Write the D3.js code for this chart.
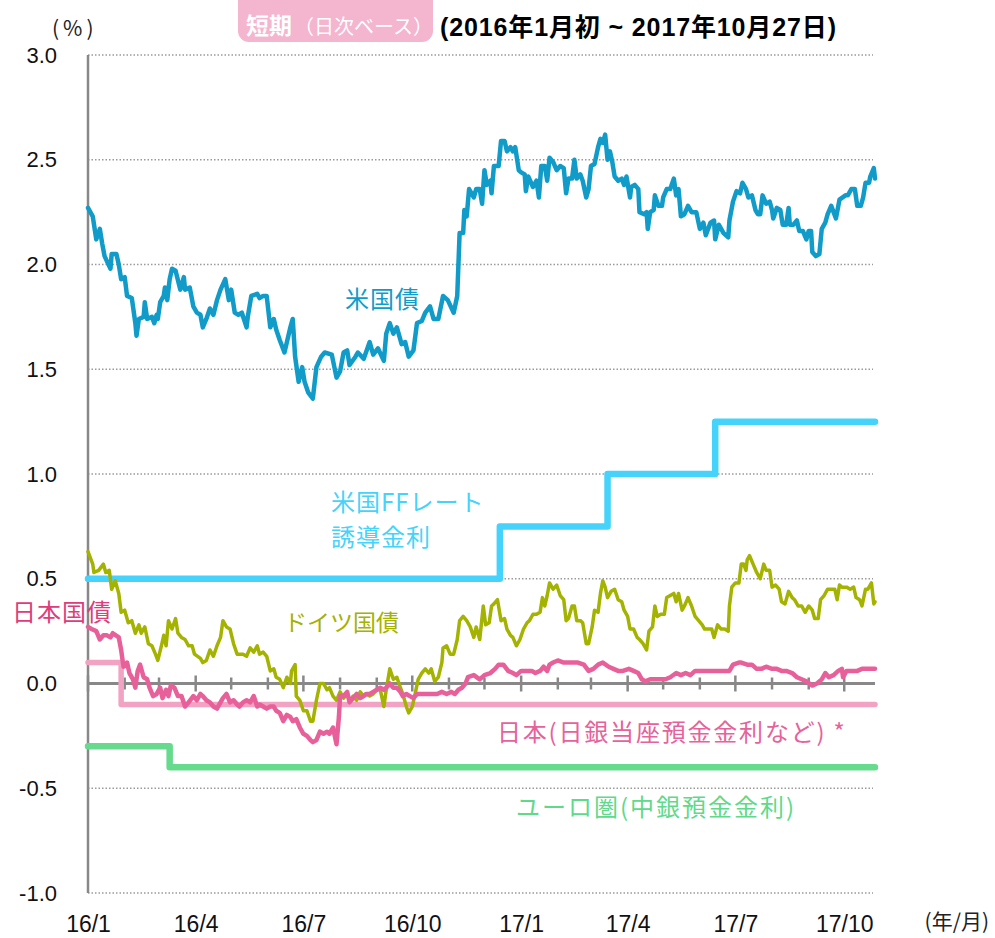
<!DOCTYPE html>
<html>
<head>
<meta charset="utf-8">
<script src="https://cdn.jsdelivr.net/npm/d3@7"></script>
<style>
  body { margin: 0; background: #fff; }
  svg { display: block; font-family: "Liberation Sans", Arial, "Noto Sans CJK JP", sans-serif; }
  .jp { font-family: "Noto Sans CJK JP", sans-serif; }
</style>
</head>
<body>
<svg id="chart" width="995" height="938"></svg>
<script>
// data: [days since 2016-01-01, value %]
const usBond = [[0,2.27],[4,2.23],[7,2.12],[10,2.17],[12,2.10],[14,2.04],[19,1.98],[20,2.05],[24,2.05],[26,2.00],[28,1.93],[31,1.94],[33,1.85],[37,1.84],[40,1.72],[41,1.66],[43,1.74],[47,1.75],[48,1.82],[50,1.74],[54,1.75],[56,1.72],[58,1.76],[59,1.74],[61,1.82],[64,1.85],[65,1.89],[67,1.83],[69,1.93],[71,1.98],[74,1.97],[78,1.88],[81,1.94],[82,1.88],[86,1.89],[89,1.80],[92,1.77],[95,1.76],[97,1.70],[100,1.74],[103,1.79],[106,1.76],[109,1.83],[112,1.88],[116,1.93],[119,1.83],[121,1.88],[124,1.77],[127,1.76],[130,1.77],[134,1.70],[135,1.75],[138,1.85],[143,1.86],[145,1.84],[148,1.85],[151,1.85],[154,1.70],[157,1.74],[159,1.69],[162,1.64],[166,1.58],[171,1.70],[173,1.74],[175,1.56],[178,1.44],[181,1.51],[183,1.44],[186,1.39],[190,1.36],[193,1.51],[197,1.56],[200,1.58],[206,1.57],[210,1.46],[213,1.49],[216,1.58],[219,1.59],[221,1.52],[226,1.56],[228,1.58],[233,1.55],[238,1.63],[241,1.57],[245,1.60],[250,1.54],[252,1.67],[255,1.72],[258,1.67],[261,1.70],[265,1.62],[268,1.63],[271,1.56],[275,1.59],[278,1.72],[282,1.73],[285,1.77],[289,1.80],[292,1.74],[296,1.74],[300,1.85],[304,1.83],[309,1.77],[312,1.85],[314,2.15],[317,2.15],[318,2.26],[320,2.23],[322,2.36],[326,2.32],[328,2.36],[331,2.36],[333,2.29],[335,2.45],[337,2.38],[340,2.40],[341,2.34],[343,2.47],[347,2.47],[349,2.59],[352,2.59],[354,2.54],[357,2.56],[359,2.54],[361,2.56],[364,2.45],[366,2.44],[369,2.43],[370,2.35],[372,2.42],[376,2.37],[379,2.40],[381,2.32],[383,2.47],[386,2.47],[388,2.40],[390,2.51],[393,2.49],[396,2.45],[399,2.47],[402,2.46],[404,2.34],[406,2.41],[409,2.41],[411,2.50],[413,2.41],[416,2.43],[418,2.40],[421,2.32],[423,2.36],[425,2.47],[428,2.48],[431,2.56],[433,2.60],[435,2.58],[437,2.62],[439,2.50],[441,2.54],[443,2.49],[445,2.42],[448,2.40],[451,2.41],[453,2.38],[455,2.42],[458,2.32],[459,2.37],[462,2.38],[465,2.36],[466,2.25],[470,2.24],[472,2.25],[473,2.17],[475,2.25],[478,2.26],[479,2.33],[482,2.28],[485,2.28],[486,2.32],[489,2.36],[492,2.36],[495,2.41],[497,2.33],[499,2.36],[501,2.23],[504,2.24],[507,2.28],[510,2.25],[514,2.25],[517,2.17],[520,2.20],[522,2.14],[526,2.20],[529,2.21],[530,2.12],[533,2.19],[537,2.15],[541,2.13],[542,2.21],[545,2.30],[548,2.35],[551,2.34],[553,2.39],[556,2.36],[558,2.32],[561,2.33],[564,2.26],[566,2.24],[568,2.24],[570,2.33],[573,2.29],[576,2.30],[578,2.26],[579,2.22],[582,2.27],[585,2.26],[587,2.19],[590,2.19],[592,2.27],[593,2.19],[596,2.19],[599,2.21],[601,2.16],[604,2.16],[607,2.12],[609,2.16],[611,2.16],[612,2.06],[615,2.04],[618,2.05],[620,2.17],[623,2.20],[625,2.24],[628,2.28],[632,2.22],[635,2.31],[640,2.33],[642,2.33],[645,2.36],[648,2.36],[650,2.28],[653,2.28],[655,2.32],[657,2.39],[660,2.39],[661,2.42],[664,2.46],[665,2.41]];

const deBond = [[0,0.63],[4,0.57],[5,0.53],[9,0.54],[13,0.57],[15,0.53],[18,0.54],[20,0.45],[23,0.49],[26,0.43],[28,0.34],[31,0.35],[34,0.29],[37,0.30],[40,0.24],[43,0.28],[45,0.24],[48,0.27],[51,0.19],[54,0.18],[57,0.14],[59,0.11],[62,0.18],[64,0.23],[66,0.18],[68,0.30],[71,0.26],[74,0.31],[76,0.24],[79,0.22],[82,0.21],[85,0.18],[88,0.18],[90,0.14],[95,0.12],[97,0.10],[100,0.11],[103,0.16],[106,0.13],[109,0.18],[112,0.22],[114,0.30],[117,0.27],[120,0.26],[123,0.19],[126,0.14],[128,0.14],[131,0.14],[134,0.13],[137,0.17],[140,0.15],[143,0.18],[145,0.14],[148,0.15],[151,0.13],[154,0.06],[157,0.07],[159,0.03],[162,0.02],[165,-0.02],[168,0.03],[171,0.00],[172,0.06],[175,0.09],[176,-0.06],[179,-0.08],[182,-0.13],[185,-0.13],[188,-0.18],[190,-0.18],[193,-0.08],[196,0.00],[199,0.00],[202,-0.03],[204,-0.02],[207,-0.06],[210,-0.08],[213,-0.04],[216,-0.07],[219,-0.05],[221,-0.08],[224,-0.06],[227,-0.08],[230,-0.04],[233,-0.06],[235,-0.05],[238,-0.06],[241,-0.05],[244,-0.03],[247,-0.03],[250,-0.11],[252,-0.03],[255,0.07],[258,0.02],[261,0.03],[264,-0.02],[266,-0.05],[269,-0.11],[271,-0.14],[274,-0.11],[276,-0.06],[279,0.02],[282,0.05],[285,0.07],[288,0.05],[290,0.07],[293,0.01],[296,0.03],[299,0.10],[300,0.17],[303,0.18],[306,0.14],[309,0.14],[312,0.21],[314,0.30],[317,0.32],[320,0.30],[323,0.27],[326,0.22],[328,0.27],[331,0.21],[334,0.37],[336,0.28],[339,0.29],[341,0.37],[343,0.38],[346,0.40],[349,0.30],[352,0.31],[354,0.26],[357,0.23],[359,0.22],[362,0.18],[365,0.21],[368,0.26],[371,0.29],[373,0.30],[376,0.33],[379,0.33],[382,0.34],[384,0.41],[386,0.37],[388,0.42],[390,0.48],[393,0.45],[396,0.47],[399,0.42],[402,0.40],[404,0.30],[406,0.31],[409,0.37],[411,0.37],[413,0.30],[416,0.30],[418,0.29],[421,0.19],[423,0.19],[426,0.27],[428,0.35],[431,0.34],[433,0.43],[435,0.49],[437,0.46],[439,0.41],[442,0.44],[445,0.45],[448,0.40],[451,0.39],[453,0.35],[456,0.32],[458,0.26],[461,0.26],[464,0.22],[466,0.21],[469,0.19],[472,0.16],[474,0.25],[477,0.27],[479,0.37],[481,0.32],[484,0.33],[487,0.33],[489,0.41],[492,0.42],[495,0.43],[497,0.39],[499,0.43],[502,0.35],[504,0.37],[507,0.41],[510,0.37],[513,0.32],[516,0.30],[519,0.28],[521,0.26],[524,0.26],[527,0.26],[529,0.22],[532,0.28],[535,0.26],[538,0.26],[541,0.25],[542,0.37],[544,0.46],[547,0.48],[550,0.48],[552,0.57],[554,0.57],[556,0.54],[557,0.59],[559,0.61],[562,0.57],[565,0.53],[568,0.50],[571,0.57],[573,0.54],[576,0.54],[578,0.46],[581,0.47],[584,0.45],[586,0.39],[589,0.38],[592,0.44],[595,0.41],[597,0.40],[600,0.37],[603,0.37],[606,0.34],[609,0.37],[612,0.35],[614,0.31],[617,0.31],[619,0.40],[622,0.42],[625,0.45],[628,0.45],[631,0.45],[633,0.40],[635,0.47],[637,0.46],[641,0.46],[644,0.45],[647,0.46],[649,0.41],[652,0.40],[654,0.37],[657,0.45],[659,0.45],[662,0.48],[664,0.38],[665,0.39]];

const jpBond = [[0,0.27],[3,0.26],[7,0.25],[10,0.21],[13,0.23],[16,0.23],[19,0.22],[21,0.24],[26,0.22],[28,0.16],[30,0.08],[33,0.10],[35,0.05],[38,0.02],[40,-0.02],[42,0.06],[44,0.09],[47,0.03],[50,0.02],[52,-0.02],[55,-0.06],[58,-0.05],[61,-0.02],[63,-0.07],[66,-0.03],[68,-0.06],[70,-0.01],[73,-0.02],[76,-0.06],[79,-0.06],[82,-0.11],[85,-0.09],[89,-0.06],[92,-0.08],[95,-0.05],[97,-0.06],[100,-0.08],[103,-0.09],[106,-0.11],[109,-0.12],[112,-0.09],[114,-0.07],[117,-0.05],[120,-0.09],[123,-0.08],[126,-0.10],[128,-0.11],[131,-0.09],[134,-0.08],[137,-0.09],[140,-0.06],[143,-0.11],[145,-0.10],[148,-0.11],[151,-0.12],[154,-0.11],[157,-0.11],[159,-0.13],[162,-0.14],[165,-0.18],[168,-0.15],[171,-0.16],[173,-0.18],[176,-0.17],[179,-0.21],[182,-0.24],[185,-0.25],[188,-0.27],[190,-0.28],[193,-0.27],[196,-0.23],[199,-0.24],[202,-0.23],[204,-0.24],[207,-0.21],[210,-0.29],[212,-0.16],[213,-0.06],[216,-0.06],[219,-0.04],[221,-0.09],[224,-0.07],[227,-0.05],[230,-0.07],[233,-0.06],[235,-0.05],[238,-0.05],[241,-0.04],[244,-0.03],[247,-0.02],[250,-0.03],[252,-0.02],[255,0.00],[258,-0.02],[261,-0.02],[264,-0.04],[266,-0.06],[269,-0.05],[272,-0.06],[275,-0.07],[278,-0.05],[281,-0.05],[283,-0.05],[286,-0.05],[290,-0.05],[295,-0.05],[299,-0.04],[303,-0.05],[307,-0.04],[310,-0.05],[313,-0.03],[316,-0.02],[319,0.00],[321,0.03],[326,0.04],[331,0.02],[335,0.04],[340,0.05],[344,0.07],[347,0.09],[351,0.09],[355,0.06],[359,0.05],[362,0.04],[366,0.06],[371,0.06],[375,0.06],[378,0.05],[382,0.06],[385,0.08],[388,0.06],[390,0.09],[393,0.10],[397,0.11],[402,0.10],[406,0.10],[410,0.10],[414,0.10],[419,0.09],[423,0.06],[427,0.07],[431,0.09],[435,0.10],[440,0.08],[444,0.07],[448,0.06],[452,0.06],[457,0.07],[461,0.06],[465,0.05],[468,0.02],[471,0.01],[475,0.02],[479,0.02],[484,0.02],[488,0.02],[492,0.03],[497,0.05],[501,0.04],[505,0.05],[509,0.04],[513,0.06],[517,0.06],[521,0.06],[526,0.06],[530,0.06],[534,0.06],[538,0.06],[542,0.06],[545,0.09],[550,0.10],[552,0.10],[557,0.09],[561,0.09],[565,0.07],[569,0.07],[573,0.08],[578,0.07],[582,0.07],[586,0.06],[590,0.06],[595,0.05],[599,0.03],[603,0.02],[607,0.01],[612,-0.01],[616,0.00],[620,0.02],[623,0.05],[626,0.03],[630,0.04],[634,0.06],[637,0.07],[638,0.03],[641,0.06],[645,0.06],[650,0.06],[654,0.07],[658,0.07],[662,0.07],[665,0.07]];

// policy rates (step changes)
const ffRate = [[0,0.5],[348,0.75],[439,1.0],[530,1.25],[665,1.25]];
const bojRate = [[0,0.1],[28,-0.1],[665,-0.1]];
const ecbRate = [[0,-0.3],[69,-0.4],[665,-0.4]];

const yTicks = [-1.0, -0.5, 0.0, 0.5, 1.0, 1.5, 2.0, 2.5, 3.0];
const lastDay = 665;

const svg = d3.select("#chart");
const start = new Date(2016, 0, 1);
const toDate = (d) => d3.timeDay.offset(start, d);

const x = d3.scaleTime().domain([start, toDate(lastDay)]).range([88, 875]);
const y = d3.scaleLinear().domain([-1, 3]).range([893, 55]);

//Gridlines (dotted), zero line is solid axis
svg.append("g")
  .selectAll("line")
  .data(yTicks.filter((d) => d !== 0))
  .join("line")
  .attr("x1", x.range()[0])
  .attr("x2", 873)
  .attr("y1", (d) => y(d))
  .attr("y2", (d) => y(d))
  .attr("stroke", "#9a9a9a")
  .attr("stroke-width", 1.5)
  .attr("stroke-dasharray", "1.5,2");

//Y axis labels
svg.append("g")
  .attr("transform", "translate(88,0)")
  .call(d3.axisLeft(y).tickValues(yTicks).tickSize(0).tickPadding(31).tickFormat((d) => d.toFixed(1)))
  .call((g) => g.select(".domain").remove())
  .selectAll("text")
  .attr("font-size", 22)
  .attr("font-family", "Liberation Sans, Arial, sans-serif")
  .attr("fill", "#111");

//X axis labels (quarterly)
const quarters = d3.timeMonth.every(3).range(start, toDate(lastDay));
svg.append("g")
  .attr("transform", "translate(0,893)")
  .call(d3.axisBottom(x).tickValues(quarters).tickSize(0).tickPadding(23).tickFormat(d3.timeFormat("%y/%-m")))
  .call((g) => g.select(".domain").remove())
  .selectAll("text")
  .attr("font-size", 23)
  .attr("font-family", "Liberation Sans, Arial, sans-serif")
  .attr("fill", "#111");

//Vertical axis line
svg.append("line")
  .attr("x1", 88).attr("x2", 88)
  .attr("y1", y(3)).attr("y2", y(-1))
  .attr("stroke", "#888").attr("stroke-width", 2.5);

//Zero line with monthly ticks
svg.append("line")
  .attr("x1", 88).attr("x2", 875)
  .attr("y1", y(0)).attr("y2", y(0))
  .attr("stroke", "#888").attr("stroke-width", 3);

const months = d3.timeMonth.range(start, toDate(lastDay));
svg.append("g")
  .selectAll("line")
  .data(months)
  .join("line")
  .attr("x1", (d) => x(d)).attr("x2", (d) => x(d))
  .attr("y1", (d) => y(0) - (d.getMonth() % 3 === 0 ? 8 : 6))
  .attr("y2", (d) => y(0) + (d.getMonth() % 3 === 0 ? 8 : 6))
  .attr("stroke", "#888").attr("stroke-width", 2.5);

//Lines
const line = d3.line().x((d) => x(toDate(d[0]))).y((d) => y(d[1]));
const stepLine = d3.line().x((d) => x(toDate(d[0]))).y((d) => y(d[1])).curve(d3.curveStepAfter);

const series = [
  { data: ecbRate, gen: stepLine, color: "#66db8e", width: 6.5 },
  { data: bojRate, gen: stepLine, color: "#f2a3c4", width: 5.5 },
  { data: ffRate, gen: stepLine, color: "#45d3fb", width: 6.5 },
  { data: deBond, gen: line, color: "#a4b200", width: 3.5 },
  { data: jpBond, gen: line, color: "#e8609a", width: 4.5 },
  { data: usBond, gen: line, color: "#109bc8", width: 4.5 }
];

svg.append("g")
  .selectAll("path")
  .data(series)
  .join("path")
  .attr("d", (s) => s.gen(s.data))
  .attr("fill", "none")
  .attr("stroke", (s) => s.color)
  .attr("stroke-width", (s) => s.width)
  .attr("stroke-linejoin", "round")
  .attr("stroke-linecap", "round");

//Series labels
const labels = [
  { text: "米国債", x: 345, y: 308, color: "#129bc8", size: 24, ls: 1 },
  { text: "米国FFレート", x: 331, y: 511, color: "#45d3fb", size: 24, ls: 1 },
  { text: "誘導金利", x: 331, y: 546, color: "#45d3fb", size: 24, ls: 1 },
  { text: "ドイツ国債", x: 284, y: 631, color: "#a4b200", size: 23, ls: 0 },
  { text: "日本国債", x: 12, y: 621, color: "#dd3d7b", size: 24, ls: 1 },
  { text: "日本(日銀当座預金金利など) *", x: 497, y: 741, color: "#e6629b", size: 24, ls: 1.8 },
  { text: "ユーロ圏(中銀預金金利)", x: 516, y: 816, color: "#5fd98a", size: 24, ls: 2 }
];

svg.append("g")
  .selectAll("text")
  .data(labels)
  .join("text")
  .attr("class", "jp")
  .attr("x", (d) => d.x)
  .attr("y", (d) => d.y)
  .attr("font-size", (d) => d.size)
  .attr("letter-spacing", (d) => d.ls)
  .attr("fill", (d) => d.color)
  .text((d) => d.text);

//Units
svg.append("text").attr("class", "jp")
  .attr("x", 52).attr("y", 36).attr("font-size", 21).attr("letter-spacing", 4).attr("fill", "#222")
  .text("(%)");
svg.append("text").attr("class", "jp")
  .attr("x", 989).attr("y", 929).attr("text-anchor", "end").attr("font-size", 21).attr("fill", "#222")
  .text("(年/月)");

//Title
svg.append("rect")
  .attr("x", 238).attr("y", -14).attr("width", 195).attr("height", 56)
  .attr("rx", 11).attr("fill", "#f4b5cf");

const badge = svg.append("text").attr("class", "jp").attr("x", 246).attr("y", 34).attr("fill", "#fff");
badge.append("tspan").attr("font-size", 23).attr("font-weight", "bold").text("短期");
badge.append("tspan").attr("font-size", 20).attr("dx", 2).text("（日次ベース）");

svg.append("text")
  .attr("x", 440).attr("y", 36)
  .attr("font-size", 25).attr("font-weight", "bold").attr("fill", "#000")
  .attr("textLength", 396).attr("lengthAdjust", "spacing")
  .text("(2016年1月初 ~ 2017年10月27日)");
</script>
</body>
</html>
